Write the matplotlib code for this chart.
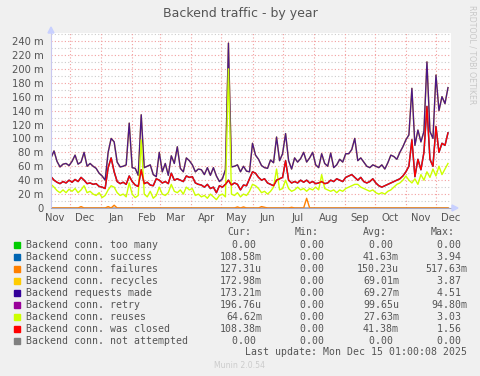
import numpy as np
import pandas as pd
import matplotlib
matplotlib.use("Agg")
import matplotlib.pyplot as plt
import matplotlib.dates as mdates
from matplotlib.patches import Polygon, Rectangle

# --- data (values in milli-units, one point every 3 days from 2024-11-12) ---
START = "2024-11-12"

requests_made = [
    72, 82, 67, 59, 63, 64, 61, 67, 76, 63, 66, 80, 60, 64, 60, 57, 50, 46, 40, 80,
    100, 95, 66, 59, 60, 62, 122, 58, 57, 47, 134, 58, 60, 62, 48,
    45, 80, 52, 64, 47, 75, 64, 88, 57, 52, 72, 68, 62, 52, 56, 55, 48, 58, 47, 58,
    46, 38, 42, 55, 237, 59, 60, 62, 52, 60, 53, 52, 93,
    76, 70, 61, 58, 57, 69, 65, 102, 68, 78, 107, 68, 56, 72, 66, 71, 80, 66, 72, 80,
    62, 58, 78, 64, 60, 79, 58, 62, 70, 66, 78, 78, 84, 100,
    68, 72, 66, 60, 58, 62, 60, 58, 62, 56, 65, 76, 74, 70, 80, 88, 98, 105, 172, 90,
    112, 95, 110, 210, 110, 100, 191, 140, 160, 150, 173,
]

was_closed = [
    45, 40, 37, 35, 38, 36, 40, 37, 41, 38, 44, 40, 35, 36, 34, 35, 31, 30, 28, 58,
    72, 52, 38, 35, 37, 34, 46, 38, 33, 31, 55, 35, 37, 33, 32,
    42, 40, 36, 38, 35, 50, 40, 42, 40, 38, 46, 44, 45, 36, 34, 33, 30, 34, 28, 30,
    22, 32, 30, 34, 40, 33, 36, 34, 26, 33, 32, 42, 52,
    50, 44, 40, 42, 36, 34, 32, 40, 42, 44, 68, 40, 36, 38, 36, 40, 37, 40, 36, 38,
    35, 36, 38, 35, 36, 40, 38, 42, 40, 38, 44, 46, 48, 44,
    40, 44, 38, 36, 38, 42, 36, 32, 30, 32, 34, 36, 38, 40, 42, 46, 52, 60, 98, 45,
    70, 55, 80, 146, 70, 60, 117, 80, 93, 90, 108,
]

reuses = [
    34, 30, 25, 22, 26, 22, 27, 24, 28, 22, 26, 32, 22, 24, 20, 18, 22, 15, 18, 26,
    32, 30, 22, 18, 20, 16, 36, 20, 15, 18, 98, 20, 16, 24, 14,
    18, 30, 20, 18, 22, 34, 24, 22, 26, 20, 30, 26, 28, 18, 20, 16, 18, 14, 20, 16,
    12, 18, 20, 16, 200, 20, 18, 22, 16, 20, 18, 24, 34,
    32, 28, 22, 24, 20, 24, 30, 56, 26, 28, 40, 28, 24, 26, 30, 26, 28, 24, 28, 26,
    30, 26, 48, 28, 26, 24, 26, 22, 26, 24, 28, 30, 32, 34,
    34, 30, 28, 26, 24, 26, 22, 20, 22, 20, 24, 26, 30, 34, 36, 40, 46, 40, 36, 42,
    34, 48, 40, 52, 44, 56, 46, 60, 48, 56, 64,
]

# failures are ~0 except a few small bumps (index into the 3-day grid)
failure_idx = [10, 19, 21, 62, 64, 70, 71, 80, 85]
failure_val = [2, 2, 4, 1.5, 1.5, 2, 1, 1, 14]

legend_names = [
    "Backend conn. too many", "Backend conn. success", "Backend conn. failures",
    "Backend conn. recycles", "Backend requests made", "Backend conn. retry",
    "Backend conn. reuses", "Backend conn. was closed", "Backend conn. not attempted",
]
legend_colors = ["#00CC00", "#0066B3", "#FF8000", "#FFCC00", "#330099",
                 "#990099", "#CCFF00", "#FF0000", "#808080"]
cur_vals = ["0.00 ", "108.58m", "127.31u", "172.98m", "173.21m", "196.76u", "64.62m", "108.38m", "0.00 "]
min_vals = ["0.00 "] * 9
avg_vals = ["0.00 ", "41.63m", "150.23u", "69.01m", "69.27m", "99.65u", "27.63m", "41.38m", "0.00 "]
max_vals = ["0.00 ", "3.94 ", "517.63m", "3.87 ", "4.51 ", "94.80m", "3.03 ", "1.56 ", "0.00 "]

W, H = 481, 376
BG = "#F0F0F0"


def fx(px):
    return px / W


def fy(py):
    return 1 - py / H


def main():
    x = pd.date_range(START, periods=len(requests_made), freq="3D")
    zeros = np.zeros(len(x))
    failures = np.zeros(len(x))
    failures[failure_idx] = failure_val

    fig = plt.figure(figsize=(W / 100, H / 100), dpi=100, facecolor=BG)
    ax = fig.add_axes([fx(51), fy(208), fx(451) - fx(51), fy(33) - fy(208)])
    ax.set_facecolor("white")

    # zero-ish series sit on the axis
    ax.plot(x, zeros, color="#00CC00", lw=1.0, zorder=2)
    ax.plot(x, failures, color="#FF8000", lw=1.0, zorder=3)
    ax.plot(x, zeros, color="#990099", lw=1.0, zorder=2)
    ax.plot(x, zeros, color="#808080", lw=1.0, zorder=2)
    # success ~ was closed, recycles ~ requests made
    ax.plot(x, was_closed, color="#0066B3", lw=1.1, zorder=3)
    ax.plot(x, requests_made, color="#FFCC00", lw=1.0, zorder=3)
    ax.plot(x, requests_made, color="#330099", lw=1.0, alpha=0.88, zorder=4)
    ax.plot(x, reuses, color="#CCFF00", lw=1.0, zorder=5)
    ax.plot(x, was_closed, color="#FF0000", lw=1.0, zorder=6)

    ax.set_xlim(pd.Timestamp("2024-11-12"), pd.Timestamp("2025-12-16"))
    ax.set_ylim(0, 251.5)

    # grid
    dots = (0, (1, 2))
    for v in range(10, 251, 10):
        col = "#F2A0A0" if v % 20 == 0 else "#CCCCCC"
        ax.axhline(v, color=col, lw=0.8, ls=dots, zorder=1)
    for m in pd.date_range("2024-12-01", "2025-12-01", freq="MS"):
        ax.axvline(m, color="#F2A0A0", lw=0.8, ls=dots, zorder=1)

    ax.set_yticks(range(0, 241, 20))
    ax.set_yticklabels(["0"] + [f"{v} m" for v in range(20, 241, 20)])
    ax.xaxis.set_major_locator(mdates.MonthLocator(bymonthday=16))
    ax.xaxis.set_major_formatter(mdates.DateFormatter("%b"))
    ax.tick_params(axis="y", length=0, pad=5.5, labelsize=7.2, labelcolor="#555555")
    ax.tick_params(axis="x", length=0, pad=3.5, labelsize=7.2, labelcolor="#555555")

    for side in ("top", "right"):
        ax.spines[side].set_visible(False)
    ax.spines["left"].set_color("#C8C8F0")
    ax.spines["bottom"].set_color("#A8A8C0")
    ax.spines["left"].set_zorder(7)
    ax.spines["bottom"].set_zorder(7)

    # axis arrows
    fig.patches.append(Polygon([(fx(48), fy(33)), (fx(54), fy(33)), (fx(51), fy(27))],
                               closed=True, color="#C8D0FF", transform=fig.transFigure))
    fig.patches.append(Polygon([(fx(452), fy(205)), (fx(452), fy(211)), (fx(458), fy(208))],
                               closed=True, color="#C8D0FF", transform=fig.transFigure))

    fig.text(fx(240), fy(13), "Backend traffic - by year", ha="center", va="center",
             fontsize=9, color="#555555")
    fig.text(fx(472), fy(5), "RRDTOOL / TOBI OETIKER", ha="center", va="top",
             rotation=270, fontsize=5.6, color="#C8C8C8")

    # legend
    mono = dict(family="DejaVu Sans Mono", fontsize=7.1, color="#555555", va="center")
    for label, px in zip(["Cur:", "Min:", "Avg:", "Max:"], [227, 295, 363, 431]):
        fig.text(fx(px), fy(232), label, ha="left", **mono)
    for i, name in enumerate(legend_names):
        yy = 245 + 12 * i
        fig.patches.append(Rectangle((fx(14), fy(yy + 3)), fx(6), fy(yy - 3) - fy(yy + 3),
                                     color=legend_colors[i], transform=fig.transFigure))
        fig.text(fx(26.5), fy(yy), name, ha="left", **mono)
        for col, px in zip([cur_vals, min_vals, avg_vals, max_vals], [262, 330, 399, 467]):
            fig.text(fx(px), fy(yy), col[i], ha="right", **mono)
    fig.text(fx(467), fy(352), "Last update: Mon Dec 15 01:00:08 2025", ha="right", **mono)
    fig.text(fx(240), fy(365), "Munin 2.0.54", ha="center", va="center",
             fontsize=5.6, color="#CCCCCC")

    fig.savefig("out.png", dpi=100, facecolor=BG)
    plt.close(fig)


if __name__ == "__main__":
    main()
